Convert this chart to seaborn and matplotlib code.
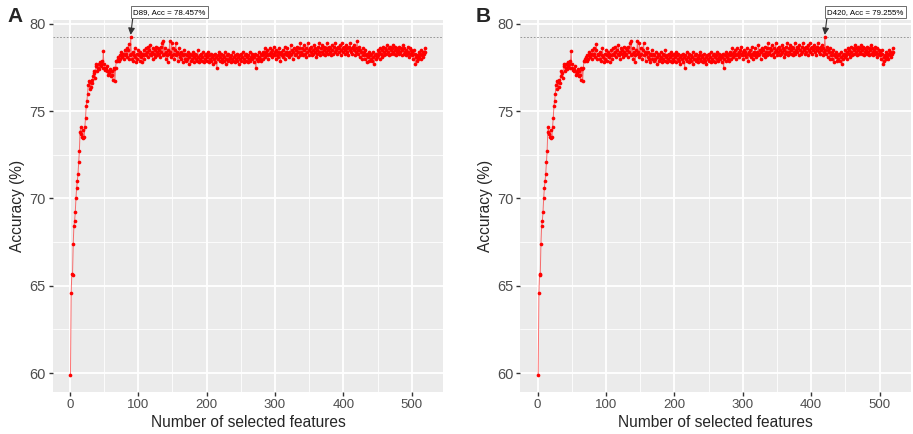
import matplotlib
matplotlib.use("Agg")
import matplotlib.pyplot as plt
from matplotlib.ticker import MultipleLocator
import seaborn as sns

# number of selected features (x) and accuracy values
n_features = list(range(1, 521))

acc_a = [
    59.9, 64.6, 65.7, 65.6, 67.4, 68.4, 68.7, 69.2, 70.0, 70.6,
    71.0, 71.4, 72.1, 72.7, 73.8, 74.1, 73.7, 73.5, 73.9, 73.45,
    73.5, 74.1, 74.6, 75.3, 75.6, 76.0, 76.5, 76.75, 76.3, 76.7,
    76.4, 76.8, 76.6, 77.0, 77.3, 77.2, 76.9, 77.6, 77.7, 77.3,
    77.5, 77.7, 77.4, 77.8, 77.6, 77.7, 77.9, 77.5, 78.45, 77.7,
    77.5, 77.35, 77.4, 77.3, 77.6, 77.1, 77.3, 77.2, 77.4, 77.0,
    77.3, 77.1, 76.8, 77.5, 77.4, 76.75, 77.5, 77.9, 77.9, 78.0,
    78.1, 77.9, 78.2, 78.0, 78.4, 78.25, 78.1, 78.3, 78.0, 78.5,
    78.2, 78.3, 78.6, 78.1, 78.5, 78.85, 78.0, 78.2, 79.255, 78.3,
    78.0, 78.4, 77.9, 78.2, 78.6, 78.1, 77.8, 78.3, 78.0, 78.5,
    78.2, 77.9, 78.4, 78.1, 78.3, 77.8, 78.2, 78.5, 78.0, 78.3,
    78.6, 78.2, 78.4, 78.7, 78.1, 78.5, 78.3, 78.8, 78.2, 78.4,
    78.0, 78.6, 78.3, 78.5, 78.1, 78.7, 78.4, 78.2, 78.6, 78.3,
    78.5, 78.1, 78.7, 78.4, 78.9, 78.2, 79.0, 78.3, 78.6, 78.0,
    78.4, 78.2, 77.8, 78.5, 78.3, 79.0, 78.4, 78.1, 78.9, 78.2,
    78.6, 78.3, 78.0, 78.5, 78.9, 78.2, 78.4, 77.9, 78.3, 78.6,
    78.1, 78.4, 78.0, 78.3, 77.8, 78.2, 78.5, 78.0, 78.3, 77.9,
    78.2, 78.0, 78.4, 77.7, 78.1, 78.3, 77.9, 78.2, 78.0, 78.4,
    78.1, 77.8, 78.3, 78.0, 78.2, 77.9, 78.5, 78.1, 77.8, 78.2,
    78.0, 78.3, 77.9, 78.1, 78.4, 77.8, 78.2, 78.0, 78.3, 77.9,
    78.1, 78.4, 77.8, 78.2, 78.0, 78.3, 77.9, 78.1, 77.7, 78.2,
    78.0, 78.3, 77.8, 78.1, 77.5, 78.2, 78.0, 78.4, 77.9, 78.1,
    78.3, 77.8, 78.0, 78.2, 77.9, 78.1, 78.4, 77.7, 78.0, 78.2,
    77.9, 78.3, 78.0, 78.1, 77.8, 78.2, 78.0, 78.4, 77.9, 78.1,
    78.2, 77.8, 78.0, 78.3, 77.9, 78.1, 77.7, 78.2, 78.0, 78.3,
    77.9, 78.1, 78.4, 77.8, 78.0, 78.2, 77.9, 78.3, 78.1, 77.8,
    78.2, 78.0, 78.4, 77.9, 78.1, 78.3, 78.0, 78.2, 77.8, 78.1,
    78.3, 77.5, 78.0, 78.2, 77.9, 78.4, 78.1, 78.0, 78.3, 77.9,
    78.2, 78.4, 78.0, 78.3, 78.6, 78.1, 78.4, 78.2, 78.5, 78.0,
    78.3, 78.6, 78.2, 78.4, 78.1, 78.5, 78.3, 78.7, 78.2, 78.4,
    78.0, 78.5, 78.2, 78.4, 78.1, 78.6, 78.3, 77.9, 78.4, 78.2,
    78.5, 78.1, 78.3, 78.7, 78.0, 78.4, 78.2, 78.6, 78.3, 78.1,
    78.4, 78.2, 78.8, 78.3, 78.5, 78.0, 78.4, 78.6, 78.2, 78.5,
    78.3, 78.7, 78.1, 78.4, 78.6, 78.2, 78.9, 78.4, 78.3, 78.6,
    78.2, 78.5, 78.8, 78.3, 78.6, 78.1, 78.4, 78.9, 78.5, 78.2,
    78.6, 78.4, 78.7, 78.2, 78.5, 78.3, 78.8, 78.4, 78.6, 78.1,
    78.5, 78.3, 78.7, 78.4, 78.9, 78.2, 78.6, 78.4, 78.8, 78.3,
    78.5, 78.7, 78.2, 78.6, 78.4, 78.9, 78.3, 78.5, 78.7, 78.4,
    78.6, 78.2, 78.8, 78.5, 78.3, 78.7, 78.4, 78.9, 78.5, 78.6,
    78.3, 78.7, 78.4, 78.6, 78.8, 78.2, 78.5, 78.9, 78.4, 78.6,
    78.7, 78.3, 78.5, 78.8, 78.4, 78.6, 78.2, 78.7, 78.5, 78.9,
    78.4, 78.6, 78.3, 78.7, 78.5, 78.8, 78.2, 78.6, 78.4, 79.0,
    78.5, 78.3, 78.7, 78.1, 78.5, 78.4, 78.0, 78.6, 78.2, 78.4,
    78.0, 78.5, 78.2, 77.8, 78.3, 78.1, 78.4, 77.9, 78.2, 78.0,
    78.3, 77.9, 78.1, 78.4, 77.7, 78.2, 78.0, 78.3, 78.1, 78.5,
    78.2, 78.4, 78.0, 78.6, 78.3, 78.5, 78.1, 78.7, 78.4, 78.2,
    78.6, 78.3, 78.5, 78.8, 78.4, 78.6, 78.2, 78.7, 78.5, 78.3,
    78.6, 78.4, 78.8, 78.3, 78.5, 78.7, 78.2, 78.6, 78.4, 78.5,
    78.3, 78.7, 78.4, 78.6, 78.2, 78.5, 78.8, 78.3, 78.6, 78.4,
    78.2, 78.5, 78.3, 78.7, 78.4, 78.1, 78.6, 78.3, 78.5, 78.2,
    78.4, 78.0, 78.5, 78.3, 77.7, 78.1, 77.9, 78.2, 78.0, 78.4,
    78.1, 78.3, 78.0, 78.5, 78.2, 78.4, 78.1, 78.3, 78.6, 78.4,
]

# panel B: same curve, but the peak sits at D420 instead of D89
acc_b = list(acc_a)
acc_b[88] = 78.3
acc_b[419] = 79.255

best_line = 79.255
panels = [
    ("A", acc_a, 89, "D89, Acc = 78.457%"),
    ("B", acc_b, 420, "D420, Acc = 79.255%"),
]

sns.set_theme(style="darkgrid", rc={
    "axes.facecolor": "#EBEBEB",
    "grid.color": "white",
    "axes.edgecolor": "#EBEBEB",
    "xtick.bottom": True,
    "ytick.left": True,
})
plt.rcParams["font.family"] = ["Liberation Sans", "DejaVu Sans"]

fig = plt.figure(figsize=(9.13, 4.34), dpi=100)
lefts = [0.0577, 0.570]

for (letter, acc, best_x, label), left in zip(panels, lefts):
    ax = fig.add_axes([left, 0.0975, 0.4278, 0.8565])

    sns.lineplot(x=n_features, y=acc, ax=ax, color="red", linewidth=0.7,
                 alpha=0.55, estimator=None)
    sns.scatterplot(x=n_features, y=acc, ax=ax, color="red", s=7,
                    linewidth=0, zorder=3)

    ax.axhline(best_line, color="#888888", linestyle=(0, (2, 2)), linewidth=0.6)

    ax.annotate(label, xy=(best_x, best_line + 0.12),
                xytext=(best_x + 3.5, 80.47), textcoords="data",
                ha="left", va="bottom", fontsize=5.7, color="black",
                bbox=dict(boxstyle="square,pad=0.3", fc="white", ec="#555555", lw=0.6),
                arrowprops=dict(arrowstyle="-|>", color="#333333", lw=0.8,
                                mutation_scale=10, relpos=(0, 0),
                                shrinkA=0, shrinkB=0),
                annotation_clip=False)

    ax.set_xlim(-25, 546)
    ax.set_ylim(58.93, 80.23)
    ax.xaxis.set_major_locator(MultipleLocator(100))
    ax.xaxis.set_minor_locator(MultipleLocator(50))
    ax.yaxis.set_major_locator(MultipleLocator(5))
    ax.yaxis.set_minor_locator(MultipleLocator(2.5))
    ax.grid(which="major", color="white", linewidth=1.3)
    ax.grid(which="minor", color="white", linewidth=0.6)
    ax.tick_params(which="major", length=3, width=1, color="#333333",
                   labelcolor="#4D4D4D", pad=2)
    ax.tick_params(axis="x", which="major", labelsize=9.5)
    ax.tick_params(axis="y", which="major", labelsize=10.5)
    ax.tick_params(which="minor", length=0)
    for s in ax.spines.values():
        s.set_visible(False)

    ax.set_xlabel("Number of selected features", fontsize=11.2, labelpad=3)
    ax.set_ylabel("Accuracy (%)", fontsize=11.2, labelpad=3)

    fig.text(left - 0.049, 0.962, letter, fontsize=15, fontweight="bold",
             ha="left", va="center")

fig.savefig("out.png", dpi=100)
